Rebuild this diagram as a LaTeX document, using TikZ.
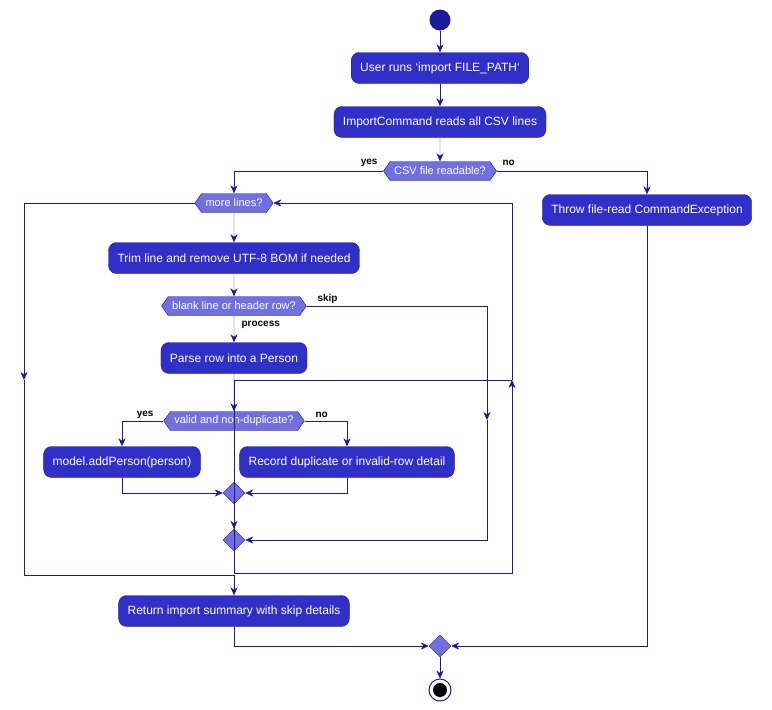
\documentclass[tikz,border=0pt]{standalone}
\usepackage{fontspec}
\setmainfont{Liberation Sans}
\usetikzlibrary{shapes.symbols,shapes.geometric,arrows.meta}
\definecolor{boxc}{HTML}{3030C8}
\definecolor{hexc}{HTML}{7070E0}
\definecolor{linec}{HTML}{1A1A9A}
\begin{document}
\begin{tikzpicture}[x=1pt,y=-1pt,
  act/.style={draw=linec,fill=boxc,rounded corners=8pt,text=white,font=\fontsize{12}{14}\selectfont,minimum height=31pt,inner xsep=9pt},
  hex/.style={draw=linec,fill=hexc,text=white,font=\fontsize{11}{13}\selectfont,signal,signal to=east and west,signal pointer angle=110,minimum height=19pt,inner sep=2pt,inner xsep=4pt},
  merge/.style={draw=linec,fill=hexc,diamond,minimum width=22pt,minimum height=22pt,inner sep=0pt},
  lab/.style={font=\bfseries\fontsize{10}{12}\selectfont},
  flow/.style={draw=linec,-{Stealth[length=8pt,width=7pt]}},
  ln/.style={draw=linec}]
\useasboundingbox (0,0) rectangle (772,710);
\node[circle,fill=linec,minimum size=21pt,inner sep=0] (start) at (440,20) {};
\node[act] (b1) at (440,68) {User runs `import FILE\_PATH`};
\node[act] (b2) at (440,122) {ImportCommand reads all CSV lines};
\node[hex] (h1) at (440,171) {CSV file readable?};
\node[act] (thr) at (647,210) {Throw file-read CommandException};
\node[hex] (more) at (234,203) {more lines?};
\node[act] (trim) at (234,258) {Trim line and remove UTF-8 BOM if needed};
\node[hex] (blank) at (234,306) {blank line or header row?};
\node[act] (parse) at (234,358) {Parse row into a Person};
\node[hex] (valid) at (234,421) {valid and non-duplicate?};
\node[act] (add) at (122,462) {model.addPerson(person)};
\node[act] (rec) at (347,462) {Record duplicate or invalid-row detail};
\node[merge] (m1) at (234,493) {};
\node[merge] (m2) at (234,540) {};
\node[act] (ret) at (234,611) {Return import summary with skip details};
\node[merge] (m3) at (440,646) {};
\node[circle,draw=linec,line width=1pt,minimum size=22pt,inner sep=0,fill=white] (end) at (440,690) {};
\node[circle,fill=black,minimum size=14pt,inner sep=0] at (end) {};
\coordinate (lb) at (24,380); \coordinate (rb) at (512,380); \coordinate (sk) at (487,420);

\path[flow] (start) -- (b1);
\path[flow] (b1) -- (b2);
\path[flow] (b2) -- (h1);
\path[flow] (h1.west) -| (more.north);
\path[flow] (h1.east) -| (thr.north);
\node[lab,anchor=east] at (381,163) {yes};
\node[lab,anchor=west] at (499,163) {no};
\path[flow] (more) -- (trim);
\path[flow] (trim) -- (blank);
\path[flow] (blank) -- (parse);
\node[lab,anchor=west] at (238,325) {process};
\node[lab,anchor=west] at (314,299) {skip};
\path[flow] (parse) -- (valid);
\path[flow] (valid.west) -| (add.north);
\path[flow] (valid.east) -| (rec.north);
\node[lab,anchor=east] at (157,415) {yes};
\node[lab,anchor=west] at (312,415) {no};
\path[flow] (add.south) |- (m1.west);
\path[flow] (rec.south) |- (m1.east);
\path[flow] (m1) -- (m2);
\path[flow] (blank.east) -| (sk);
\path[flow] (sk) |- (m2.east);
\path[ln] (m2.south) |- (rb);
\path[flow] (m2.south) -- ++(0,22) -| (rb);
\path[flow] (rb) |- (more.east);
\path[flow] (more.west) -| (lb);
\path[flow] (lb) |- (234,575) -- (ret.north);
\path[flow] (ret.south) |- (m3.west);
\path[flow] (thr.south) |- (m3.east);
\path[flow] (m3) -- (end);
\end{tikzpicture}
\end{document}
